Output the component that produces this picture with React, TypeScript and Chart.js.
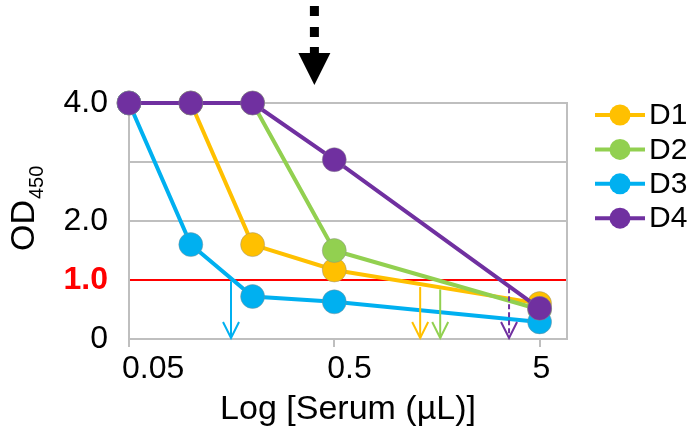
import React, { useEffect, useRef } from "react";
import { Chart, registerables } from "chart.js";

Chart.register(...registerables);

// ---- data ----
const serumX = [0.05, 0.1, 0.2, 0.5, 5];
const seriesNames = ["D1", "D2", "D3", "D4"];
const d1Values = [4.0, 4.0, 1.6, 1.17, 0.6];
const d2Values = [4.0, 4.0, 4.0, 1.5, 0.5];
const d3Values = [4.0, 1.6, 0.72, 0.63, 0.29];
const d4Values = [4.0, 4.0, 4.0, 3.04, 0.52];
const seriesColors = ["#FFC000", "#92D050", "#00B0F0", "#7030A0"];

const xTickValues = [0.05, 0.5, 5];
const xTickLabels = ["0.05", "0.5", "5"];
const yTickValues = [0, 1, 2, 3, 4];
const yTickLabels = ["0", "1.0", "2.0", "", "4.0"];
const cutoffOD = 1.0;

// drop arrows where each curve crosses the cut-off (x value, start y)
const dropArrowX = [0.157, 1.31, 1.64, 3.55];
const dropArrowTop = [0.98, 0.88, 0.84, 0.86];
const dropArrowColors = ["#00B0F0", "#FFC000", "#92D050", "#7030A0"];
const dropArrowDashed = [false, false, false, true];

// top marker arrow
const topArrowX = 0.4;

const FONT = "'Liberation Sans', Arial, Helvetica, sans-serif";
const GRAY = "#BFBFBF";

const overlayPlugin = {
  id: "overlay",
  beforeDatasetsDraw(chart: any) {
    const { ctx, chartArea } = chart;
    ctx.save();
    ctx.strokeStyle = GRAY;
    ctx.lineWidth = 2;
    ctx.beginPath();
    ctx.moveTo(chartArea.right, chartArea.top - 1);
    ctx.lineTo(chartArea.right, chartArea.bottom);
    ctx.stroke();
    ctx.restore();
  },
  afterDatasetsDraw(chart: any) {
    const { ctx, scales } = chart;
    const xs = scales.x;
    const ys = scales.y;
    ctx.save();
    dropArrowX.forEach((xv, i) => {
      const x = xs.getPixelForValue(xv);
      const y0 = ys.getPixelForValue(dropArrowTop[i]);
      const y1 = ys.getPixelForValue(0) - 1;
      ctx.strokeStyle = dropArrowColors[i];
      ctx.lineWidth = 2;
      ctx.setLineDash(dropArrowDashed[i] ? [5, 3] : []);
      ctx.beginPath();
      ctx.moveTo(x, y0);
      ctx.lineTo(x, y1);
      ctx.stroke();
      ctx.setLineDash([]);
      ctx.beginPath();
      ctx.moveTo(x - 8, y1 - 16);
      ctx.lineTo(x, y1);
      ctx.lineTo(x + 8, y1 - 16);
      ctx.stroke();
    });
    ctx.restore();
  },
  afterDraw(chart: any) {
    const { ctx, chartArea, scales } = chart;
    ctx.save();
    // top dotted arrow
    const ax = scales.x.getPixelForValue(topArrowX);
    ctx.fillStyle = "#000";
    ctx.fillRect(ax - 4.5, 6, 9, 10);
    ctx.fillRect(ax - 4.5, 27, 9, 10);
    ctx.fillRect(ax - 4.5, 47, 9, 8);
    ctx.beginPath();
    ctx.moveTo(ax - 16, 53);
    ctx.lineTo(ax + 16, 53);
    ctx.lineTo(ax, 85);
    ctx.closePath();
    ctx.fill();

    // y axis title OD450
    ctx.fillStyle = "#000";
    ctx.translate(34, chartArea.bottom - 88);
    ctx.rotate(-Math.PI / 2);
    ctx.textAlign = "left";
    ctx.textBaseline = "alphabetic";
    ctx.font = `34px ${FONT}`;
    ctx.fillText("OD", 0, 0);
    const w = ctx.measureText("OD").width;
    ctx.font = `20px ${FONT}`;
    ctx.fillText("450", w + 1, 9);
    ctx.setTransform(1, 0, 0, 1, 0, 0);

    // legend
    const lx = chartArea.right + 28;
    seriesNames.forEach((name, i) => {
      const y = 115 + i * 34.4;
      ctx.strokeStyle = seriesColors[i];
      ctx.lineWidth = 4;
      ctx.beginPath();
      ctx.moveTo(lx, y);
      ctx.lineTo(lx + 50, y);
      ctx.stroke();
      ctx.fillStyle = seriesColors[i];
      ctx.beginPath();
      ctx.arc(lx + 25, y, 10.5, 0, Math.PI * 2);
      ctx.fill();
      ctx.fillStyle = "#000";
      ctx.font = `30px ${FONT}`;
      ctx.textAlign = "left";
      ctx.textBaseline = "middle";
      ctx.fillText(name, lx + 54, y + 1);
    });
    ctx.restore();
  },
};

export default function App() {
  const canvasRef = useRef<HTMLCanvasElement>(null);

  useEffect(() => {
    if (!canvasRef.current) return;
    const all = [d1Values, d2Values, d3Values, d4Values];
    const chart = new Chart(canvasRef.current, {
      type: "line",
      data: {
        datasets: all.map((vals, i) => ({
          label: seriesNames[i],
          data: serumX.map((x, j) => ({ x, y: vals[j] })),
          borderColor: seriesColors[i],
          backgroundColor: seriesColors[i],
          borderWidth: 4,
          pointRadius: 12,
          pointHoverRadius: 12,
          pointBorderWidth: 1,
          pointBorderColor: "rgba(140,140,140,0.45)",
          pointBackgroundColor: seriesColors[i],
          tension: 0,
          clip: false as any,
          order: 4 - i,
        })),
      },
      options: {
        responsive: false,
        animation: false,
        layout: { padding: { left: 0, top: 103, right: 126, bottom: 0 } },
        plugins: {
          legend: { display: false },
          tooltip: { enabled: false },
        },
        scales: {
          x: {
            type: "logarithmic",
            min: 0.05,
            max: 6.8,
            afterBuildTicks: (s: any) => {
              s.ticks = xTickValues.map((v) => ({ value: v }));
            },
            afterFit: (s: any) => {
              s.height = 93;
            },
            grid: {
              drawOnChartArea: false,
              drawTicks: true,
              tickLength: 8,
              color: GRAY,
              lineWidth: 2,
            },
            border: { color: GRAY, width: 2 },
            ticks: {
              autoSkip: false,
              maxRotation: 0,
              align: "start",
              labelOffset: -7,
              padding: 3,
              color: "#000",
              font: { family: FONT, size: 32 },
              callback: (v: any) => {
                const idx = xTickValues.findIndex((t) => Math.abs(t - Number(v)) < 1e-9);
                return idx >= 0 ? xTickLabels[idx] : "";
              },
            },
            title: {
              display: true,
              text: "Log [Serum (µL)]",
              color: "#000",
              font: { family: FONT, size: 34 },
              padding: { top: 0, bottom: 2 },
            },
          },
          y: {
            min: 0,
            max: 4,
            afterBuildTicks: (s: any) => {
              s.ticks = yTickValues.map((v) => ({ value: v }));
            },
            afterFit: (s: any) => {
              s.width = 129;
            },
            grid: {
              drawTicks: false,
              color: (c: any) => (c.tick && c.tick.value === cutoffOD ? "#FF0000" : GRAY),
              lineWidth: 2,
            },
            border: { color: GRAY, width: 2 },
            ticks: {
              padding: 21,
              color: (c: any) => (c.tick && c.tick.value === cutoffOD ? "#FF0000" : "#000"),
              font: (c: any) => ({
                family: FONT,
                size: 32,
                weight: c.tick && c.tick.value === cutoffOD ? "bold" : "normal",
              }),
              callback: (v: any) => {
                const idx = yTickValues.indexOf(Number(v));
                return idx >= 0 ? yTickLabels[idx] : "";
              },
            },
          },
        },
      },
      plugins: [overlayPlugin],
    } as any);
    return () => chart.destroy();
  }, []);

  return (
    <div style={{ position: "fixed", left: 0, top: 0, width: 693, height: 432, background: "#fff" }}>
      <canvas ref={canvasRef} width={693} height={432} style={{ display: "block" }} />
    </div>
  );
}
